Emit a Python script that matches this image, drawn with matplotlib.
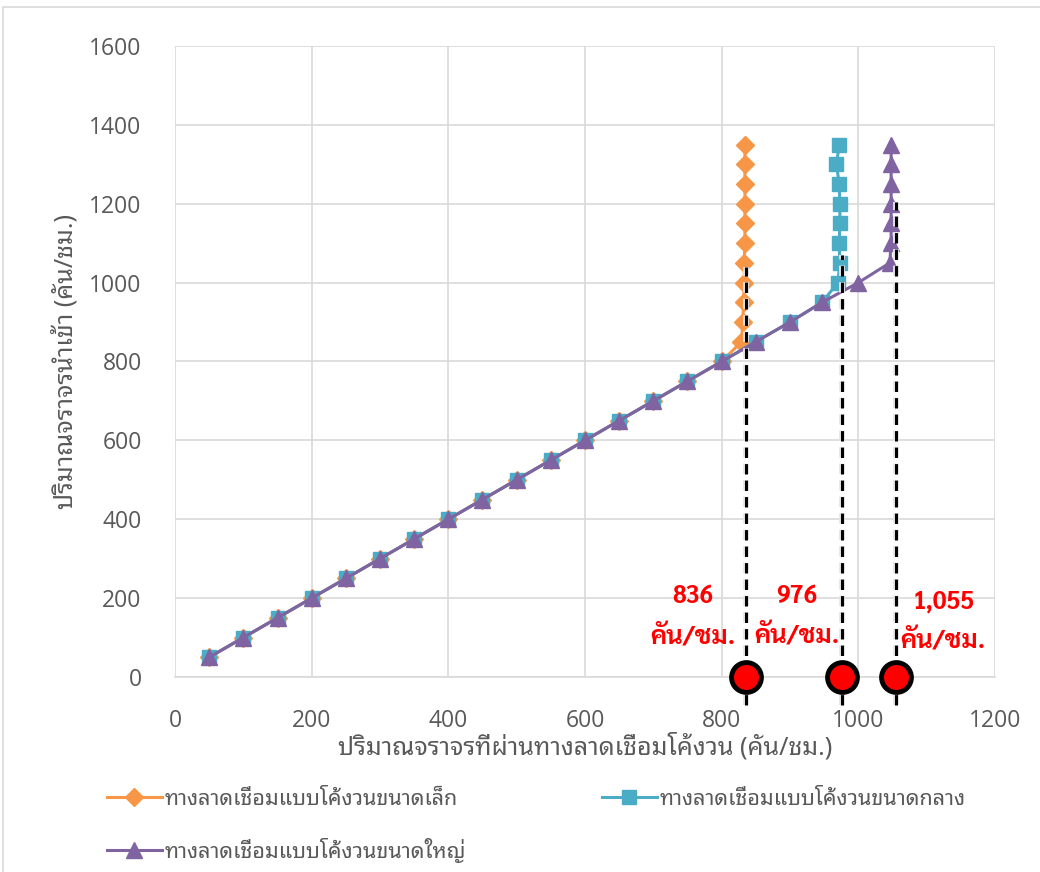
import matplotlib
matplotlib.use("Agg")
import matplotlib.pyplot as plt
from matplotlib.patches import Rectangle
import matplotlib.patheffects as pe

# ---- data -------------------------------------------------------------
diag = [50, 100, 150, 200, 250, 300, 350, 400, 450, 500, 550, 600, 650, 700, 750, 800]

small_x = diag + [829, 831, 832, 833, 833, 834, 834, 834, 834, 834, 834]
small_y = diag + [850, 900, 950, 1000, 1050, 1100, 1150, 1200, 1250, 1300, 1350]

medium_x = diag + [850, 900, 947, 970, 973, 972, 973, 973, 972, 968, 972]
medium_y = diag + [850, 900, 950, 1000, 1050, 1100, 1150, 1200, 1250, 1300, 1350]

large_x = diag + [850, 900, 947, 1000, 1046, 1048, 1048, 1048, 1048, 1048, 1048]
large_y = diag + [850, 900, 950, 1000, 1050, 1100, 1150, 1200, 1250, 1300, 1350]

series_names = ["ทางลาดเชื่อมแบบโค้งวนขนาดเล็ก",
                "ทางลาดเชื่อมแบบโค้งวนขนาดกลาง",
                "ทางลาดเชื่อมแบบโค้งวนขนาดใหญ่"]

capacity = [836, 976, 1055]
capacity_text = ["836", "976", "1,055"]
guide_top = [1040, 1070, 1205]
guide_bottom = -70
unit_text = "คัน/ชม."

x_ticks = [0, 200, 400, 600, 800, 1000, 1200]
y_ticks = [0, 200, 400, 600, 800, 1000, 1200, 1400, 1600]

x_title = "ปริมาณจราจรที่ผ่านทางลาดเชื่อมโค้งวน (คัน/ชม.)"
y_title = "ปริมาณจราจรนำเข้า (คัน/ชม.)"

# ---- style ------------------------------------------------------------
THAI = ["Noto Sans Thai Looped", "Noto Sans Thai", "DejaVu Sans"]
THAI_BOLD = ["Sarabun", "Noto Sans Thai", "DejaVu Sans"]
NUM = ["Open Sans", "Noto Sans", "DejaVu Sans"]
GREY_TXT = "#595959"
GRID = "#d9d9d9"
C_SMALL = "#f79646"
C_MED = "#4bacc6"
C_LARGE = "#8064a2"

fig = plt.figure(figsize=(10.4, 8.72), dpi=100)
fig.patches.append(Rectangle((3 / 1040, -0.05), 1.2, 1 - 7 / 872 + 0.05,
                             transform=fig.transFigure, fill=False,
                             edgecolor="#d9d9d9", linewidth=1.2))

ax = fig.add_axes([175 / 1040, 1 - 677 / 872, 820 / 1040, 631 / 872])
ax.set_xlim(0, 1200)
ax.set_ylim(0, 1600)
ax.set_xticks(x_ticks)
ax.set_yticks(y_ticks)
ax.grid(True, color=GRID, linewidth=1.2)
ax.set_axisbelow(True)
for s in ["top", "right", "left"]:
    ax.spines[s].set_visible(False)
ax.spines["bottom"].set_color(GRID)
ax.spines["bottom"].set_linewidth(1.2)
ax.tick_params(length=0, colors=GREY_TXT, labelsize=16.5)
ax.tick_params(axis="x", pad=23)
ax.tick_params(axis="y", pad=24)
for lab in ax.get_xticklabels() + ax.get_yticklabels():
    lab.set_family(NUM)

h1, = ax.plot(small_x, small_y, color=C_SMALL, lw=2.2, marker="D", ms=9.5,
              label=series_names[0], zorder=3)
h2, = ax.plot(medium_x, medium_y, color=C_MED, lw=2.2, marker="s", ms=10,
              label=series_names[1], zorder=4)
h3, = ax.plot(large_x, large_y, color=C_LARGE, lw=2.2, marker="^", ms=11,
              label=series_names[2], zorder=5)

# capacity guides and markers
for cx, top in zip(capacity, guide_top):
    ax.plot([cx, cx], [guide_bottom, top], color="black", lw=2.2,
            linestyle=(0, (3.4, 2.0)), clip_on=False, zorder=6,
            path_effects=[pe.withStroke(linewidth=4.2, foreground="#e6e6e6")])
    ax.plot([cx], [0], marker="o", ms=21.5, mfc="#ff0000", mec="black",
            mew=3.5, clip_on=False, zorder=7, linestyle="none")

label_pos = [(758, 202, 99), (910, 202, 101), (1124, 190, 89)]
for txt, (lx, ly1, ly2) in zip(capacity_text, label_pos):
    ax.text(lx, ly1, txt, color="#ff0000", fontsize=17.5, fontweight="bold",
            family=THAI_BOLD, ha="center", va="center", zorder=8)
    ax.text(lx, ly2, unit_text, color="#ff0000", fontsize=18.5, fontweight="bold",
            family=THAI_BOLD, ha="center", va="center", zorder=8)

ax.set_xlabel(x_title, family=THAI, fontsize=18, color=GREY_TXT, labelpad=0)
ax.set_ylabel(y_title, family=THAI, fontsize=18, color=GREY_TXT)
ax.yaxis.set_label_coords(-0.118, 0.5)

leg = fig.legend([h1, h3, h2], [series_names[0], series_names[2], series_names[1]],
                 loc="upper left", bbox_to_anchor=(98 / 1040, 1 - 780 / 872),
                 ncol=2, frameon=False, handlelength=2.55, handletextpad=0.15,
                 columnspacing=6.3, labelspacing=1.3, borderaxespad=0,
                 prop={"family": THAI, "size": 15.5})
for t in leg.get_texts():
    t.set_color(GREY_TXT)

fig.savefig("out.png", dpi=100)
